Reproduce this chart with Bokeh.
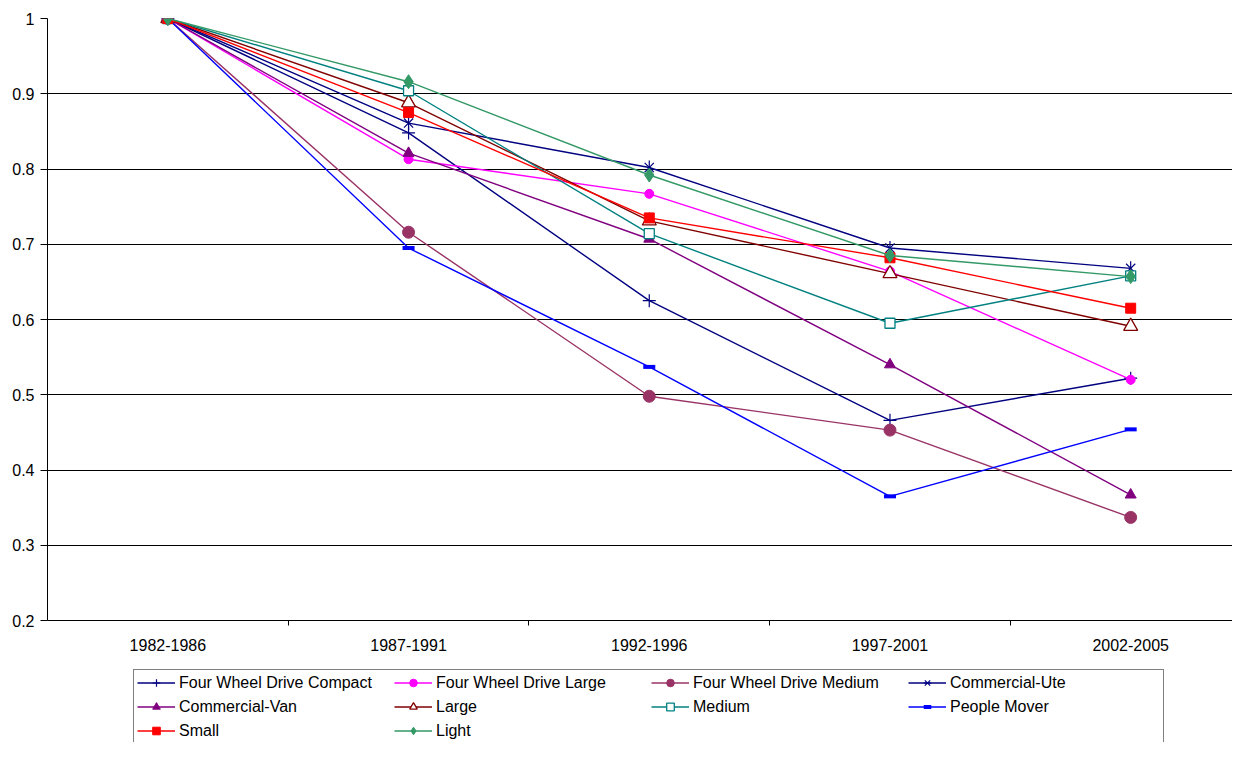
import math
from bokeh.plotting import figure
from bokeh.layouts import column
from bokeh.models import Range1d, FixedTicker, Legend
from bokeh.embed import file_html
from bokeh.resources import INLINE

# ---------------- data ----------------
categories = ["1982-1986", "1987-1991", "1992-1996", "1997-2001", "2002-2005"]

fwd_compact = [1.0, 0.848, 0.625, 0.466, 0.522]
fwd_large = [1.0, 0.813, 0.767, 0.664, 0.520]
fwd_medium = [1.0, 0.716, 0.498, 0.453, 0.337]
commercial_ute = [1.0, 0.861, 0.802, 0.695, 0.668]
commercial_van = [1.0, 0.821, 0.707, 0.540, 0.367]
large = [1.0, 0.888, 0.731, 0.661, 0.591]
medium = [1.0, 0.904, 0.714, 0.595, 0.658]
people_mover = [1.0, 0.695, 0.537, 0.365, 0.454]
small = [1.0, 0.875, 0.735, 0.682, 0.615]
light = [1.0, 0.916, 0.792, 0.685, 0.657]

y_ticks = [0.2, 0.3, 0.4, 0.5, 0.6, 0.7, 0.8, 0.9, 1.0]

# marker specs: list of (marker, size, fill, line_width, angle)
series = [
    ("Four Wheel Drive Compact", fwd_compact, "#000080", [("cross", 13, "#000080", 1.2, 0)]),
    ("Four Wheel Drive Large", fwd_large, "#FF00FF", [("circle", 9, "#FF00FF", 1, 0)]),
    ("Four Wheel Drive Medium", fwd_medium, "#993366", [("circle", 12, "#993366", 1, 0)]),
    ("Commercial-Ute", commercial_ute, "#000080", [("x", 13, "#000080", 1.2, 0), ("dash", 14, "#000080", 1.2, math.pi / 2)]),
    ("Commercial-Van", commercial_van, "#800080", [("triangle", 11, "#800080", 1, 0)]),
    ("Large", large, "#800000", [("triangle", 14, "white", 1.3, 0)]),
    ("Medium", medium, "#008080", [("square", 10, "white", 1.3, 0)]),
    ("People Mover", people_mover, "#0000FF", [("dash", 12, "#0000FF", 4, 0)]),
    ("Small", small, "#FF0000", [("square", 10, "#FF0000", 1, 0)]),
    ("Light", light, "#339966", [("diamond", 14, "#339966", 1, 0)]),
]

FONT = "Liberation Sans"

xs = [i + 0.5 for i in range(len(categories))]


def draw(fig, vals, color, marks):
    rs = [fig.line(xs, vals, line_color=color, line_width=1.4)]
    for mk, size, fill, lw, ang in marks:
        rs.append(fig.scatter(xs, vals, marker=mk, size=size, line_color=color,
                              fill_color=fill, line_width=lw, angle=ang))
    return rs


p = figure(
    width=1232, height=660,
    output_backend="svg", toolbar_location=None,
    x_range=Range1d(0, 4.923), y_range=Range1d(0.2, 1.0),
    min_border_left=47, min_border_right=0, min_border_top=18, min_border_bottom=40,
)
p.outline_line_color = None
p.background_fill_color = "white"
p.border_fill_color = "white"

# grid
p.xgrid.visible = False
p.ygrid.ticker = FixedTicker(ticks=y_ticks)
p.ygrid.grid_line_color = "#000000"
p.ygrid.grid_line_width = 1

# y axis
p.yaxis.ticker = FixedTicker(ticks=y_ticks)
p.yaxis.major_label_overrides = {1.0: "1"}
p.yaxis.axis_line_color = "black"
p.yaxis.major_tick_out = 7
p.yaxis.major_tick_in = 0
p.yaxis.minor_tick_line_color = None
p.yaxis.major_label_standoff = 6
p.yaxis.major_label_text_font = FONT
p.yaxis.major_label_text_font_size = "16px"
p.yaxis.major_label_text_color = "black"

# x axis: labels at category centres, ticks at boundaries
p.xaxis.ticker = FixedTicker(ticks=xs, minor_ticks=[i for i in range(1, len(categories))])
p.xaxis.major_label_overrides = {x: c for x, c in zip(xs, categories)}
p.xaxis.axis_line_color = "black"
p.xaxis.major_tick_out = 0
p.xaxis.major_tick_in = 0
p.xaxis.minor_tick_out = 5
p.xaxis.minor_tick_in = 0
p.xaxis.minor_tick_line_color = "black"
p.xaxis.major_label_standoff = 13
p.xaxis.major_label_text_font = FONT
p.xaxis.major_label_text_font_size = "16px"
p.xaxis.major_label_text_color = "black"

for name, vals, color, marks in series:
    draw(p, vals, color, marks)

# ---------------- legend strip below the chart ----------------
# its own renderers sit outside its visible range, they only feed the legend swatches
lf = figure(
    width=1232, height=82,
    output_backend="svg", toolbar_location=None,
    x_axis_location=None, y_axis_location=None,
    x_range=Range1d(-3, -2), y_range=Range1d(-3, -2),
    min_border_left=0, min_border_right=0, min_border_top=0, min_border_bottom=0,
)
lf.grid.visible = False
lf.outline_line_color = None
lf.background_fill_color = "white"
lf.border_fill_color = "white"

items = []
for name, vals, color, marks in series:
    items.append((name, draw(lf, vals, color, marks)))

legend = Legend(items=items, location=(86, -2), orientation="horizontal", ncols=4)
legend.glyph_width = 38
legend.glyph_height = 19
legend.label_height = 19
legend.label_width = 210
legend.label_standoff = 4
legend.spacing = 5
legend.padding = 3
legend.margin = 0
legend.border_line_color = "black"
legend.border_line_width = 1
legend.background_fill_color = "white"
legend.background_fill_alpha = 1
legend.label_text_font = FONT
legend.label_text_font_size = "16px"
legend.label_text_color = "black"
lf.add_layout(legend, "center")

layout = column(p, lf, spacing=0)
open("out.html", "w").write(file_html(layout, INLINE))
